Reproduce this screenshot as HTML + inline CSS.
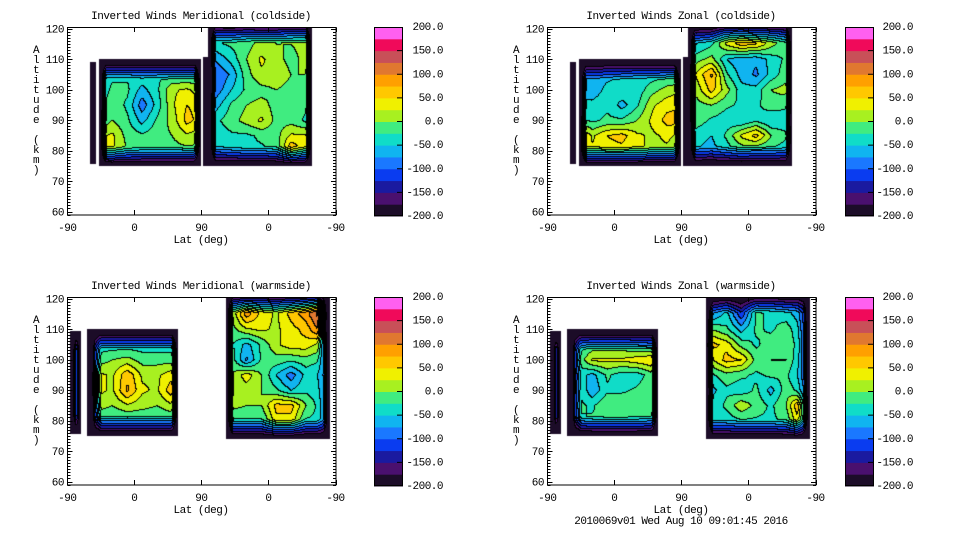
<!DOCTYPE html>
<html><head><meta charset="utf-8">
<style>
body{margin:0;background:#fff;width:960px;height:540px;overflow:hidden;position:relative;font-family:"Liberation Mono",monospace;}
canvas{position:absolute;}
svg{position:absolute;left:0;top:0;}
text{font-family:"Liberation Mono",monospace;font-size:11px;fill:#000;letter-spacing:-0.5px;}
</style></head>
<body>
<svg id="svg" width="960" height="540"></svg>
<script>
// Latitude positions along the x axis (0 = -90 left, 360 = -90 right)
const cols=[5,20,30,45,60,80,100,120,140,160,178,184,200,220,240,260,280,300,320,335,350];
const alts=[120,115,110,105,100,95,90,85,80,75];
const colorTicks=["200.0","150.0","100.0","50.0","0.0","-50.0","-100.0","-150.0","-200.0"];
const colorTickValues=[200,150,100,50,0,-50,-100,-150,-200];
const xTickLabels=["-90","0","90","0","-90"];
const xTickPos=[0,90,180,270,360];
const yTickValues=[60,70,80,90,100,110,120];
const bandColors=["#1c0c28","#4a106e","#1a1aa0","#0a3cf0","#1a78ff","#10b4f0","#10dcc8","#40ec80","#a8f020","#f0f000","#ffc800","#ffa000","#e07830","#c85058","#f00a5a","#ff60f0"];
const titles=["Inverted Winds Meridional (coldside)","Inverted Winds Zonal (coldside)","Inverted Winds Meridional (warmside)","Inverted Winds Zonal (warmside)"];

const meridColdValues=[
[-190,-190,-190,-30,-30,-30,-30,-30,-30,-30,-30,-60,-10,-20,0,-10,-10,20,10,-100,-200],
[-190,-190,-190,-30,-30,-30,-30,-30,-30,-30,-30,-60,-30,-20,-10,10,0,0,10,-100,-200],
[-190,-190,-190,-30,-30,-30,-30,-30,-30,-30,-30,-80,-70,-40,0,30,10,-10,10,-100,-200],
[-190,-190,-190,-30,-30,-30,-30,-30,-30,-30,-30,-90,-100,-70,-10,20,20,0,0,-100,-200],
[-190,-190,-190,-40,-20,-20,-60,-30,20,30,10,-90,-90,-50,-20,-10,0,-10,-10,-100,-200],
[-190,-190,-190,-30,-10,-30,-90,-40,20,50,40,-80,-60,-20,0,10,-10,-20,-20,-100,-200],
[-190,-190,-190,-20,0,-20,-60,-20,10,60,40,-60,-30,-10,10,30,-10,-10,-30,-100,-200],
[-190,-190,-190,20,30,-10,-20,-10,0,20,10,-50,-40,-30,-30,-20,-10,30,30,-100,-200],
[-190,-190,-190,20,30,0,-10,-10,-10,-10,-10,-60,-50,-40,-30,-30,-20,80,30,-100,-200],
[-190,-190,-190,20,30,0,-10,-10,-10,-10,-10,-60,-50,-40,-30,-30,-20,80,30,-100,-200]];
const zonalColdValues=[
[-190,-190,-190,-60,-60,-60,-60,-60,-60,-60,-60,-50,-80,-60,50,70,40,30,-10,-100,-200],
[-190,-190,-190,-60,-60,-60,-60,-60,-60,-60,-60,-40,-50,-30,30,60,50,10,-20,-100,-200],
[-190,-190,-190,-60,-60,-60,-60,-60,-60,-60,-60,-30,-10,10,-50,-70,-70,-40,-20,-100,-200],
[-190,-190,-190,-60,-70,-60,-50,-40,-40,-30,-30,-20,30,80,-20,-60,-80,-40,-10,-100,-200],
[-190,-190,-190,-60,-70,-40,-30,-40,-10,10,20,-10,10,60,10,-40,-40,0,10,-100,-200],
[-190,-190,-190,-40,-40,-30,-60,-30,20,40,50,-10,-10,0,-20,-30,-30,-10,-20,-100,-200],
[-190,-190,-190,-20,-30,-20,-20,0,30,60,60,-10,-10,-30,-40,-50,-30,-50,-40,-100,-200],
[-190,-190,-190,60,20,50,60,30,20,30,20,-30,-40,-50,-20,30,60,0,-20,-100,-200],
[-190,-190,-190,40,30,40,40,30,20,20,10,-40,-50,-60,-40,-20,-30,-30,-40,-100,-200],
[-190,-190,-190,40,30,40,40,30,20,20,10,-40,-50,-60,-40,-20,-30,-30,-40,-100,-200]];
const meridWarmValues=[
[-60,-60,-200,-40,-40,-40,-40,-40,-40,-40,-40,-10,-10,-10,60,40,20,40,80,120,-200],
[-60,-60,-200,-40,-40,-40,-40,-40,-40,-40,-40,0,0,0,90,40,20,60,90,130,-200],
[-60,-60,-200,-40,-40,-40,-40,-40,-40,-40,-40,-10,-10,-10,20,30,20,40,60,100,-200],
[-60,-60,-200,-40,-40,-40,-40,-40,-40,-40,-40,-20,-20,-20,-60,-20,20,40,40,20,-150],
[-60,-60,-200,-10,0,10,-10,-10,-10,-10,-10,-10,-10,-10,-80,-20,-10,-20,-10,-20,-120],
[-60,-60,-200,30,20,70,20,20,40,40,40,0,0,0,40,0,-50,-90,-40,-50,-100],
[-60,-60,-200,30,20,80,30,20,70,70,70,0,0,0,10,0,-20,-50,-30,-40,-100],
[-60,-60,-200,10,0,20,10,0,20,20,20,10,10,10,0,0,60,60,0,-30,-100],
[-60,-60,-200,-30,-30,-30,-30,-30,-30,-30,-30,-30,-30,-30,-30,-30,40,40,-30,-30,-100],
[-60,-60,-200,-30,-30,-30,-30,-30,-30,-30,-30,-30,-30,-30,-30,-30,40,40,-30,-30,-100]];
const zonalWarmValues=[
[-80,-80,-200,-40,-40,-40,-40,-40,-40,-40,-40,-120,-120,-120,-80,-140,-40,-40,-60,-60,-150],
[-80,-80,-200,-40,-40,-40,-40,-40,-40,-40,-40,-80,-80,-80,-40,-120,-20,-30,-40,-60,-150],
[-80,-80,-200,-40,-40,-40,-40,-40,-40,-40,-40,0,0,0,-20,-60,-20,-30,-10,-40,-150],
[-80,-80,-200,-40,-20,-20,-20,-30,-40,-40,-40,60,60,60,40,-10,-30,-10,-10,-30,-140],
[-80,-80,-200,-10,30,30,30,40,50,50,50,20,20,20,60,50,-10,0,0,-40,-130],
[-80,-80,-200,-40,-60,-20,-40,-40,-10,-10,-10,-30,-30,-30,-10,-20,-30,-20,-20,-50,-120],
[-80,-80,-200,-30,-70,-30,-30,-20,0,0,0,-60,-60,-60,-30,-40,-20,-60,-10,-30,-110],
[-80,-80,-200,-20,-30,0,0,-20,-10,-10,-10,-40,-40,-40,-20,20,-10,-30,0,70,-100],
[-80,-80,-200,-30,-20,-20,-20,-20,-30,-30,-30,-40,-40,-40,-40,-30,-30,-30,-20,40,-100],
[-80,-80,-200,-30,-20,-20,-20,-20,-30,-30,-30,-40,-40,-40,-40,-30,-30,-30,-20,40,-100]];
// data coverage segments: [posStart,posEnd,altLow,altHigh]
const coldSegments=[[31,39,75.5,109],[42.5,179.5,75,110],[182.5,189,75,110.5],[189,329,75,122]];
const warmSegments=[[4,19,75.5,109.5],[27,149,75,110],[212.5,352.6,74,122]];

const panels=[
 {ox:0,oy:0,vals:meridColdValues,segs:coldSegments,cb:374,lab:443,name:"meridional-coldside"},
 {ox:480,oy:0,vals:zonalColdValues,segs:coldSegments,cb:365,lab:433,name:"zonal-coldside"},
 {ox:0,oy:270,vals:meridWarmValues,segs:warmSegments,cb:374,lab:443,name:"meridional-warmside"},
 {ox:480,oy:270,vals:zonalWarmValues,segs:warmSegments,cb:365,lab:433,name:"zonal-warmside"}];

function xScale(p){return 67.3+p*0.745;}
function yScale(a){return 28.5+(120-a)*3.05;}
function cbY(v){return 27+(200-v)/400*189;}
const NS="http://www.w3.org/2000/svg";
const svg=document.getElementById('svg');
function mk(tag,attrs,parent){const e=document.createElementNS(NS,tag);for(const k in attrs)e.setAttribute(k,attrs[k]);(parent||svg).appendChild(e);return e;}

function sample(vals,pos,alt){
  let j=0;while(j<cols.length-2&&pos>cols[j+1])j++;
  let tx=(pos-cols[j])/(cols[j+1]-cols[j]);tx=Math.max(0,Math.min(1,tx));
  let i=0;while(i<alts.length-2&&alt<alts[i+1])i++;
  let ty=(alts[i]-alt)/(alts[i]-alts[i+1]);ty=Math.max(0,Math.min(1,ty));
  const a=vals[i][j],b=vals[i][j+1],c=vals[i+1][j],d=vals[i+1][j+1];
  return (a*(1-tx)+b*tx)*(1-ty)+(c*(1-tx)+d*tx)*ty;
}
function hex(h){return [parseInt(h.slice(1,3),16),parseInt(h.slice(3,5),16),parseInt(h.slice(5,7),16)];}
const rgb=bandColors.map(hex);

panels.forEach((P,pi)=>{
  const g=mk('g',{transform:`translate(${P.ox},${P.oy})`});
  
  
  const W=268,H=188;
  const cv=document.createElement('canvas');
  cv.width=W;cv.height=H;cv.style.left=(P.ox+68)+'px';cv.style.top=(P.oy+27)+'px';
  
  
  document.body.insertBefore(cv,svg);
  const ctx=cv.getContext('2d');const img=ctx.createImageData(W,H);
  const band=new Int16Array(W*H).fill(-1);
  for(let y=0;y<H;y++){for(let x=0;x<W;x++){
    const pos=(68+x+0.5-67.3)/0.745, alt=120-(27+y+0.5-28.5)/3.05;
    for(const s of P.segs){
      if(pos>=s[0]&&pos<=s[1]&&alt>=s[2]&&alt<=s[3]){
        let v=sample(P.vals,pos,alt);
        const dx=Math.min(pos-s[0],s[1]-pos)*0.745, dy=Math.min(alt-s[2],s[3]-alt)*3.05;
        const fy=Math.max(0,1-dy/20), fx=Math.max(0,1-dx/7);
        v=v-(v+230)*fy;
        v=v-(v+260)*fx;
        band[y*W+x]=Math.max(0,Math.min(15,Math.floor((v+200)/25)));
        break;
      }
    }
  }}
  for(let y=0;y<H;y++)for(let x=0;x<W;x++){
    const k=y*W+x,b=band[k];let c=[255,255,255];
    if(b>=0){c=rgb[b];
      if((x>0&&band[k-1]>=0&&band[k-1]!==b)||(y>0&&band[k-W]>=0&&band[k-W]!==b))c=[0,0,0];}
    img.data[k*4]=c[0];img.data[k*4+1]=c[1];img.data[k*4+2]=c[2];img.data[k*4+3]=255;
  }
  ctx.putImageData(img,0,0);
  const box=mk('rect',{x:67.5,y:27.5,width:268.5,height:187.5,fill:'none',stroke:'#000','stroke-width':1},g);
  
  
  for(let a=59;a<=120;a++){
    const yy=Math.round(yScale(a))+0.5,len=(a%10===0)?5:3;
    mk('line',{x1:67.5,x2:67.5+len,y1:yy,y2:yy,stroke:'#000'},g);
    mk('line',{x1:336,x2:336-len,y1:yy,y2:yy,stroke:'#000'},g);
  }
  yTickValues.forEach(v=>{
    const t=mk('text',{x:64,y:yScale(v)+4,'text-anchor':'end'},g);t.textContent=v;
    
    
  });
  xTickPos.forEach((p,k)=>{
    const xx=Math.round(xScale(p))+0.5;
    mk('line',{x1:xx,x2:xx,y1:215,y2:210,stroke:'#000'},g);
    mk('line',{x1:xx,x2:xx,y1:27.5,y2:32,stroke:'#000'},g);
    const t=mk('text',{x:xScale(p),y:231,'text-anchor':'middle'},g);t.textContent=xTickLabels[k];
    
    
  });
  const xl=mk('text',{x:201,y:243,'text-anchor':'middle'},g);xl.textContent="Lat (deg)";
  
  
  const ylab="Altitude (km)";
  const yg=mk('g',{},g);
  
  
  for(let k=0;k<ylab.length;k++){const t=mk('text',{x:36,y:53+k*10,'text-anchor':'middle'},yg);t.textContent=ylab[k];}
  const ti=mk('text',{x:201,y:19,'text-anchor':'middle'},g);ti.textContent=titles[pi];
  
  
  const cb=mk('g',{},g);
  
  
  bandColors.forEach((c,k)=>{
    const lo=-200+k*25,hi=lo+25;
    mk('rect',{x:P.cb,y:cbY(hi),width:29,height:cbY(lo)-cbY(hi)+0.5,fill:c},cb);
  });
  mk('rect',{x:P.cb+0.5,y:27.5,width:28,height:188,fill:'none',stroke:'#000'},cb);
  colorTickValues.forEach((v,k)=>{
    if(v<200&&v>-200)mk('line',{x1:P.cb+29,x2:P.cb+23,y1:cbY(v),y2:cbY(v),stroke:'#000'},cb);
    const t=mk('text',{x:P.lab,y:cbY(v)+3,'text-anchor':'end'},cb);t.textContent=colorTicks[k];
    
    
  });
});
const ft=mk('text',{x:681,y:524,'text-anchor':'middle'});ft.textContent="2010069v01 Wed Aug 10 09:01:45 2016";


</script>
</body></html>
